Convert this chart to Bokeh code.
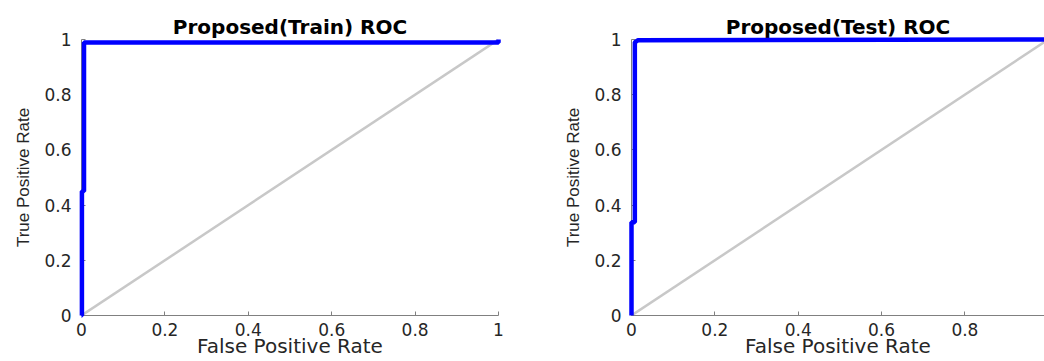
from bokeh.plotting import figure
from bokeh.layouts import row
from bokeh.models import FixedTicker, Range1d
from bokeh.embed import file_html
from bokeh.resources import INLINE

# ---- data ----
train_fpr = [0.0, 0.001, 0.001, 0.006, 0.006, 1.0, 1.0]
train_tpr = [0.0, 0.0, 0.45, 0.45, 0.989, 0.989, 1.0]

test_fpr = [0.0, 0.0, 0.008, 0.008, 0.015, 1.0]
test_tpr = [0.0, 0.338, 0.338, 0.99, 0.997, 1.0]

chance_x = [0.0, 1.0]
chance_y = [0.0, 1.0]

tick_values = [0.0, 0.2, 0.4, 0.6, 0.8, 1.0]
tick_labels = {0.0: "0", 0.2: "0.2", 0.4: "0.4", 0.6: "0.6", 0.8: "0.8", 1.0: "1"}

titles = ["Proposed(Train) ROC", "Proposed(Test) ROC"]
xlabel = "False Positive Rate"
ylabel = "True Positive Rate"

AXIS_COLOR = "#808080"
TEXT_COLOR = "#262626"


def make_panel(title, fpr, tpr, width, x_end, border_left, border_right,
               frame_top, frame_bottom_border):
    p = figure(width=width, height=361, output_backend="svg",
               toolbar_location=None,
               x_range=Range1d(0, x_end), y_range=Range1d(0, 1),
               min_border_left=border_left, min_border_right=border_right,
               min_border_top=frame_top, min_border_bottom=frame_bottom_border)
    p.title.text = title
    p.title.align = "center"
    p.title.text_font = "DejaVu Sans"
    p.title.text_font_style = "bold"
    p.title.text_font_size = "20px"
    p.title.text_color = "black"
    p.title.standoff = 2

    p.outline_line_color = None
    p.xgrid.visible = False
    p.ygrid.visible = False
    p.background_fill_color = "white"
    p.border_fill_color = "white"

    p.line(chance_x, chance_y, line_color="#c8c8c8", line_width=2.5)
    p.line(fpr, tpr, line_color="#0000ff", line_width=4.5, level="overlay")

    for ax in (p.xaxis, p.yaxis):
        ax.ticker = FixedTicker(ticks=tick_values)
        ax.major_label_overrides = tick_labels
        ax.axis_line_color = AXIS_COLOR
        ax.major_tick_line_color = AXIS_COLOR
        ax.major_tick_in = 4
        ax.major_tick_out = 0
        ax.minor_tick_line_color = None
        ax.major_label_text_font = "DejaVu Sans"
        ax.major_label_text_font_size = "17px"
        ax.major_label_text_color = TEXT_COLOR
        ax.axis_label_text_font_style = "normal"
        ax.axis_label_text_color = TEXT_COLOR

    p.xaxis.axis_label = xlabel
    p.xaxis.axis_label_text_font = "DejaVu Sans"
    p.xaxis.axis_label_text_font_size = "20px"
    p.xaxis.major_label_standoff = 7
    p.xaxis.axis_label_standoff = -5

    p.yaxis.axis_label = ylabel
    p.yaxis.axis_label_text_font = "Liberation Sans"
    p.yaxis.axis_label_text_font_size = "17px"
    p.yaxis.major_label_standoff = 10
    p.yaxis.axis_label_standoff = 8
    return p


p1 = make_panel(titles[0], train_fpr, train_tpr, 520, 1.0, 81, 22, 39, 46)
p2 = make_panel(titles[1], test_fpr, test_tpr, 524, 0.991, 111, 0, 39, 44)

layout = row(p1, p2)
open("out.html", "w").write(file_html(layout, INLINE))
